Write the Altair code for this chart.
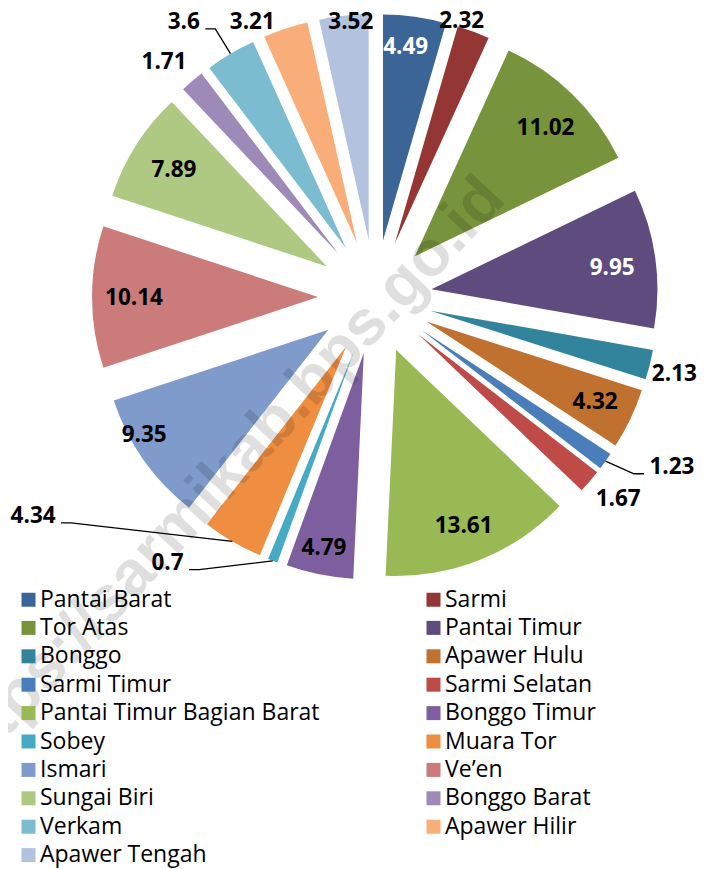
import math
import altair as alt
import pandas as pd

# ---------------- data ----------------
names = ["Pantai Barat", "Sarmi", "Tor Atas", "Pantai Timur", "Bonggo", "Apawer Hulu",
         "Sarmi Timur", "Sarmi Selatan", "Pantai Timur Bagian Barat", "Bonggo Timur",
         "Sobey", "Muara Tor", "Ismari", "Ve’en", "Sungai Biri", "Bonggo Barat",
         "Verkam", "Apawer Hilir", "Apawer Tengah"]
values = [4.49, 2.32, 11.02, 9.95, 2.13, 4.32, 1.23, 1.67, 13.61, 4.79,
          0.7, 4.34, 9.35, 10.14, 7.89, 1.71, 3.6, 3.21, 3.52]
labels = ["4.49", "2.32", "11.02", "9.95", "2.13", "4.32", "1.23", "1.67", "13.61", "4.79",
          "0.7", "4.34", "9.35", "10.14", "7.89", "1.71", "3.6", "3.21", "3.52"]

# ---------------- style / layout ----------------
colors = ["#3B6497", "#943634", "#77933C", "#5F4B7E", "#31849B", "#C0712F",
          "#4A7EBB", "#BE4B48", "#98B954", "#7D5FA0", "#46AAC5", "#EF8D40",
          "#7E9BCB", "#CB7B7A", "#AFC882", "#9E8AB8", "#7BBCD1", "#F9AD78", "#B3C2DE"]
label_white = [True, False, False, True] + [False] * 15
# label distance from pie centre (px) and angular nudge from slice bisector (deg)
label_r = [252, 289, 240, 239, 309, 244, 342, 316, 246, 256,
           337, 406, 269, 241, 238, 316, 335, 301, 276]
label_nudge = [-1.1, -2.9, 0.9, 0.9, 0.5, 0.1, -5.7, -1.0, 0.7, 0.2,
               16.8, 27.1, 4.2, -0.2, -0.1, -1.6, -4.1, -5.6, 1.3]
# leader lines: slice index -> side of label where line starts (+1 right, -1 left)
leaders = {6: -1, 10: 1, 11: 1, 16: 1}

W, H = 690, 861
CX, CY = 367, 289          # pie centre in plot coordinates
R = 226                    # pie radius
EXPLODE = 57               # explosion distance
LABEL_FS = 22.5

# legend is laid out column by column: put even entries in column 1, odd in column 2
legend_order = names[0::2] + names[1::2]
legend_colors = colors[0::2] + colors[1::2]

total = sum(values)
rows = []
acc = 0.0
for i, (n, v) in enumerate(zip(names, values)):
    t0 = acc / total * 2 * math.pi
    acc += v
    t1 = acc / total * 2 * math.pi
    mid = (t0 + t1) / 2
    rows.append(dict(name=n, value=v, t0=t0, t1=t1, mid=mid,
                     cx=EXPLODE * math.sin(mid), cy=EXPLODE * math.cos(mid)))
df = pd.DataFrame(rows)

lab_rows = []
lead_rows = []
for i, r in df.iterrows():
    ang = r["mid"] + math.radians(label_nudge[i])
    lx = label_r[i] * math.sin(ang)
    ly = label_r[i] * math.cos(ang)
    lab_rows.append(dict(name=r["name"], label=labels[i], lx=lx, ly=ly,
                         white=label_white[i]))
    if i in leaders:
        side = leaders[i]
        s = labels[i]
        hw = (sum(c.isdigit() for c in s) * 12.8 + 5.5) / 2
        sx = lx + side * (hw + 6)
        sy = ly - 7
        ex = r["cx"] + R * math.sin(r["mid"])
        ey = r["cy"] + R * math.cos(r["mid"])
        lead_rows.append(dict(name=r["name"], o=0, x=sx, y=sy))
        lead_rows.append(dict(name=r["name"], o=1, x=sx + side * 10, y=sy))
        lead_rows.append(dict(name=r["name"], o=2, x=ex, y=ey))
lab = pd.DataFrame(lab_rows)
lead = pd.DataFrame(lead_rows)

xs = alt.Scale(domain=[-CX, W - CX], nice=False, zero=False)
ys = alt.Scale(domain=[CY - H, CY], nice=False, zero=False)

pie = alt.Chart(df).mark_arc(outerRadius=R).encode(
    x=alt.X("cx:Q", scale=xs, axis=None),
    y=alt.Y("cy:Q", scale=ys, axis=None),
    theta=alt.Theta("t0:Q", scale=None, stack=None),
    theta2="t1:Q",
    color=alt.Color("name:N", sort=legend_order,
                    scale=alt.Scale(domain=legend_order, range=legend_colors),
                    legend=alt.Legend(title=None, orient="none", legendX=9, legendY=580,
                                      columns=2, symbolType="square", symbolSize=196,
                                      symbolStrokeWidth=0, symbolOpacity=1,
                                      labelFont="Open Sans", labelFontSize=23,
                                      labelColor="black", labelOffset=0,
                                      labelLimit=500, rowPadding=4.4, columnPadding=102,
                                      padding=0)),
)

lines = alt.Chart(lead).mark_line(color="black", strokeWidth=1.3).encode(
    x=alt.X("x:Q", scale=xs, axis=None),
    y=alt.Y("y:Q", scale=ys, axis=None),
    detail="name:N",
    order="o:Q",
)

def text_layer(white):
    return alt.Chart(lab[lab["white"] == white]).mark_text(
        font="Open Sans", fontWeight="bold", fontSize=LABEL_FS,
        color="white" if white else "black", baseline="middle", align="center",
    ).encode(
        x=alt.X("lx:Q", scale=xs, axis=None),
        y=alt.Y("ly:Q", scale=ys, axis=None),
        text="label:N",
    )

watermark = alt.Chart(pd.DataFrame({"t": ["https://sarmikab.bps.go.id"]})).mark_text(
    font="Liberation Sans", fontWeight="bold", fontSize=64, angle=313,
    color="black", opacity=0.12, align="center", baseline="middle",
).encode(x=alt.value(214), y=alt.value(471), text="t:N")

chart = alt.layer(pie, lines, text_layer(True), text_layer(False), watermark).properties(
    width=W, height=H, autosize=alt.AutoSizeParams(type="none"), padding=0
).configure_view(stroke=None)

chart.save("out.html", embed_options={"renderer": "svg", "actions": False})
